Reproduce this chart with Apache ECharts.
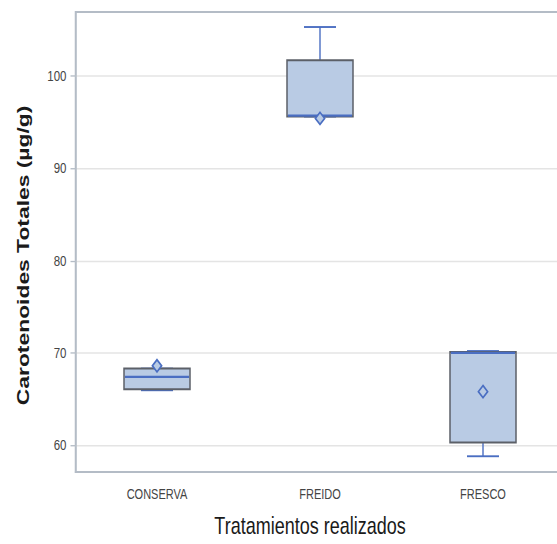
<!DOCTYPE html>
<html><head><meta charset="utf-8">
<script src="https://cdn.jsdelivr.net/npm/echarts@6/dist/echarts.min.js"></script>
<style>
html,body{margin:0;padding:0;background:#fff;overflow:hidden;width:557px;height:544px}
#c{width:566px;height:405px;transform:scaleY(1.3446);transform-origin:0 0}
</style>
</head><body><div id="c"></div>
<script>
const categories = ['CONSERVA', 'FREIDO', 'FRESCO'];
const minVals    = [65.95, 95.6, 58.8];
const q1Vals     = [66.05, 95.6, 60.3];
const medianVals = [67.4, 95.7, 70.0];
const q3Vals     = [68.3, 101.7, 70.1];
const maxVals    = [68.3, 105.3, 70.2];
const meanVals   = [68.6, 95.4, 65.8];
const yTicks = [60, 70, 80, 90, 100];

const data = categories.map((c, i) => [i, minVals[i], q1Vals[i], medianVals[i], q3Vals[i], maxVals[i], meanVals[i]]);

const BLUE = '#4a6ec2';
const FONT = 'Liberation Sans, Arial, sans-serif';
const chart = echarts.init(document.getElementById('c'), null, { renderer: 'svg' });
chart.setOption({
  animation: false,
  grid: { left: 75.5, top: 8.9, width: 489, height: 347.6, show: true, borderColor: '#b4bcc6', borderWidth: 1.5, backgroundColor: 'transparent' },
  xAxis: {
    type: 'category', data: categories, boundaryGap: true,
    name: 'Tratamientos realizados', nameLocation: 'middle', nameGap: 31,
    nameTextStyle: { fontSize: 18, color: '#1a1a1a', fontFamily: FONT, padding: [0, 20, 0, 0] },
    axisLine: { lineStyle: { color: '#b4bcc6', width: 1.5 } },
    axisTick: { alignWithLabel: true, length: 4.5, lineStyle: { color: '#c0c4c8' } },
    axisLabel: { margin: 10.5, fontSize: 11, color: '#444', fontFamily: FONT },
    splitLine: { show: false }
  },
  yAxis: {
    type: 'value', min: 57.1, max: 106.93,
    name: 'Carotenoides Totales (µg/g)', nameLocation: 'middle', nameGap: 44,
    nameTextStyle: { fontSize: 17, fontWeight: 'bold', color: '#1a1a1a', fontFamily: FONT, padding: [0, 20, 0, 0] },
    axisLine: { show: true, lineStyle: { color: '#b4bcc6', width: 1.5 } },
    axisTick: { show: true, length: 5, lineStyle: { color: '#b4bcc6' }, customValues: yTicks },
    axisLabel: { margin: 9, fontSize: 11.5, color: '#444', fontFamily: FONT, customValues: yTicks },
    splitLine: { show: true, lineStyle: { color: '#e4e4e4', width: 1 } }
  },
  series: [{
    type: 'custom',
    data: data,
    clip: false,
    renderItem: function (params, api) {
      const x = api.value(0);
      const pMin = api.coord([x, api.value(1)]);
      const pQ1 = api.coord([x, api.value(2)]);
      const pMed = api.coord([x, api.value(3)]);
      const pQ3 = api.coord([x, api.value(4)]);
      const pMax = api.coord([x, api.value(5)]);
      const pMean = api.coord([x, api.value(6)]);
      const cx = pMin[0];
      const bw = 66, cw = 32;
      const ln = { stroke: BLUE, lineWidth: 1.4 };
      const children = [
        { type: 'line', shape: { x1: cx, y1: pMax[1], x2: cx, y2: pQ3[1] }, style: ln },
        { type: 'line', shape: { x1: cx - cw / 2, y1: pMax[1], x2: cx + cw / 2, y2: pMax[1] }, style: ln },
        { type: 'line', shape: { x1: cx, y1: pMin[1], x2: cx, y2: pQ1[1] }, style: ln },
        { type: 'line', shape: { x1: cx - cw / 2, y1: pMin[1], x2: cx + cw / 2, y2: pMin[1] }, style: ln },
        { type: 'rect', shape: { x: cx - bw / 2, y: pQ3[1], width: bw, height: pQ1[1] - pQ3[1] },
          style: { fill: '#b9cbe4', stroke: '#5c6068', lineWidth: 1.5 } },
        { type: 'line', shape: { x1: cx - bw / 2 + 1, y1: pMed[1], x2: cx + bw / 2 - 1, y2: pMed[1] }, style: { stroke: BLUE, lineWidth: 1.5 } },
        { type: 'polygon', shape: { points: [[pMean[0], pMean[1] - 4.5], [pMean[0] + 4.6, pMean[1]], [pMean[0], pMean[1] + 4.5], [pMean[0] - 4.6, pMean[1]]] },
          style: { fill: '#b9cbe4', stroke: BLUE, lineWidth: 1.5 } }
      ];
      return { type: 'group', children: children };
    }
  }]
});
</script></body></html>
